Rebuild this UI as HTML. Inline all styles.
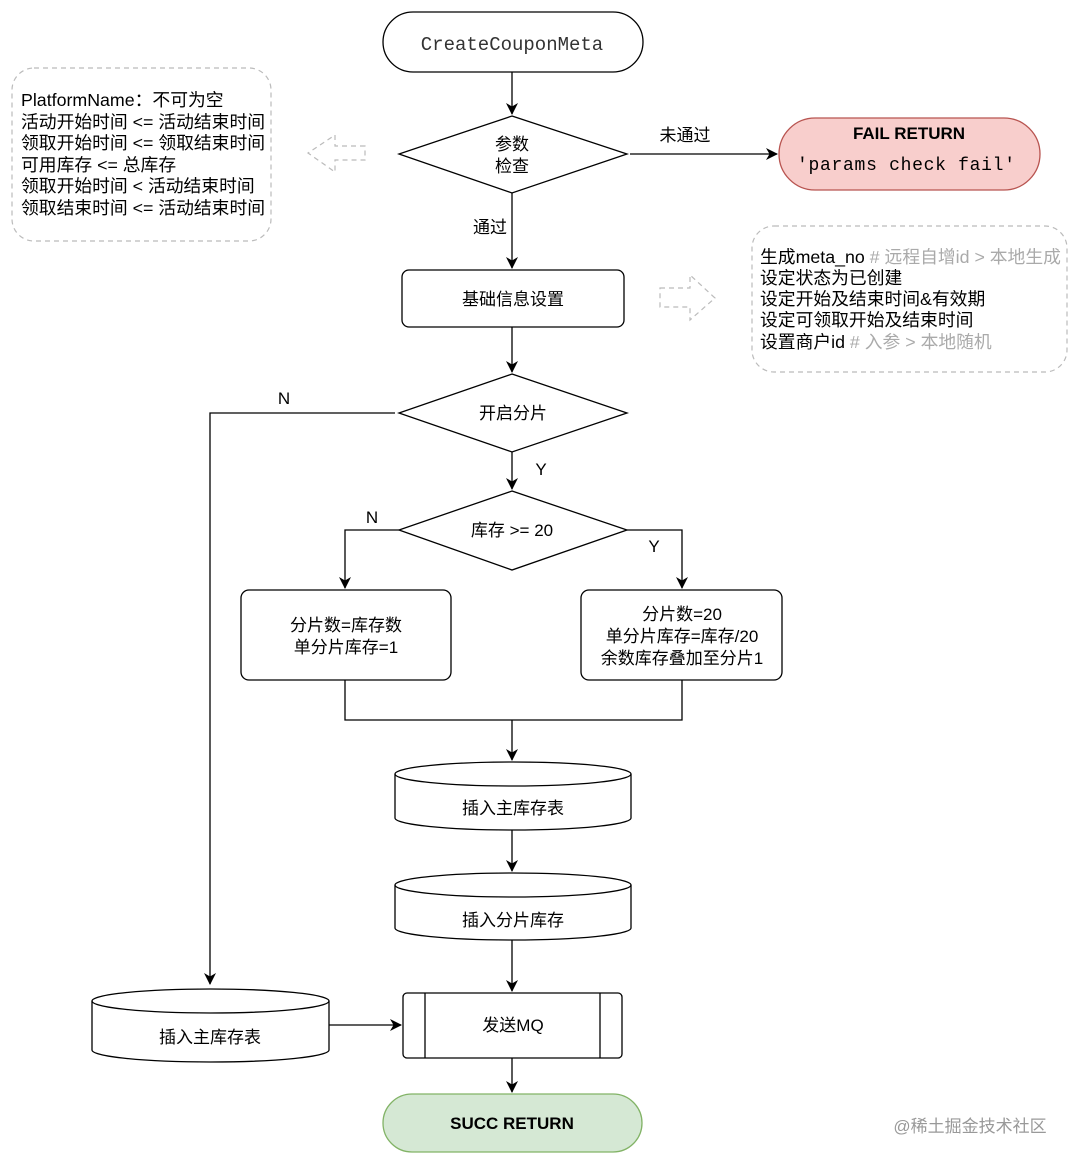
<!DOCTYPE html>
<html><head><meta charset="utf-8"><style>
html,body{margin:0;padding:0;background:#fff}
svg text{font-family:"Liberation Sans","Noto Sans CJK SC",sans-serif}
</style></head><body>
<svg width="1080" height="1166" viewBox="0 0 1080 1166" xmlns="http://www.w3.org/2000/svg">
<defs><marker id="a" markerWidth="12" markerHeight="12" refX="11" refY="6" orient="auto" markerUnits="userSpaceOnUse"><path d="M0,0 L12,6 L0,12 L3.5,6 Z" fill="#000"/></marker></defs>
<g fill="none" stroke="#000" stroke-width="1.3">
<rect x="383" y="12" width="260" height="60" rx="30" fill="#fff"/>
<line x1="512" y1="72" x2="512" y2="114" marker-end="url(#a)"/>
<polygon points="512,116 627,154 512,193 399,154" fill="#fff"/>
<line x1="630" y1="154" x2="777" y2="154" marker-end="url(#a)"/>
<rect x="779" y="118" width="261" height="72" rx="36" fill="#f8cecc" stroke="#b85450"/>
<line x1="512" y1="193" x2="512" y2="268" marker-end="url(#a)"/>
<rect x="402" y="270" width="222" height="57" rx="7" fill="#fff"/>
<line x1="512" y1="327" x2="512" y2="372" marker-end="url(#a)"/>
<polygon points="512,374 627,413 512,452 399,413" fill="#fff"/>
<polyline points="395,413 210,413 210,984" marker-end="url(#a)"/>
<line x1="512" y1="452" x2="512" y2="489" marker-end="url(#a)"/>
<polygon points="512,491 627,530 512,570 399,530" fill="#fff"/>
<polyline points="399,530 345,530 345,588" marker-end="url(#a)"/>
<polyline points="627,530 682,530 682,588" marker-end="url(#a)"/>
<rect x="241" y="590" width="210" height="90" rx="8" fill="#fff"/>
<rect x="581" y="590" width="201" height="90" rx="8" fill="#fff"/>
<polyline points="345,680 345,720 682,720 682,680"/>
<line x1="512" y1="720" x2="512" y2="760" marker-end="url(#a)"/>
<path d="M395,774 A118,12 0 0 1 631,774 L631,818 A118,12 0 0 1 395,818 Z" fill="#fff"/>
<path d="M395,774 A118,12 0 0 0 631,774"/>
<line x1="512" y1="830" x2="512" y2="871" marker-end="url(#a)"/>
<path d="M395,885 A118,12 0 0 1 631,885 L631,928 A118,12 0 0 1 395,928 Z" fill="#fff"/>
<path d="M395,885 A118,12 0 0 0 631,885"/>
<line x1="512" y1="940" x2="512" y2="991" marker-end="url(#a)"/>
<rect x="403" y="993" width="219" height="65" rx="4" fill="#fff"/>
<line x1="425" y1="993" x2="425" y2="1058"/><line x1="600" y1="993" x2="600" y2="1058"/>
<path d="M92,1001 A118.5,12 0 0 1 329,1001 L329,1050 A118.5,12 0 0 1 92,1050 Z" fill="#fff"/>
<path d="M92,1001 A118.5,12 0 0 0 329,1001"/>
<line x1="329" y1="1025" x2="401" y2="1025" marker-end="url(#a)"/>
<line x1="512" y1="1058" x2="512" y2="1092" marker-end="url(#a)"/>
<rect x="383" y="1094" width="259" height="58" rx="29" fill="#d5e8d4" stroke="#82b366"/>
</g>
<g fill="none" stroke="#bbb" stroke-width="1.2" stroke-dasharray="5,4">
<rect x="12" y="68" width="259" height="173" rx="22"/>
<rect x="752" y="226" width="315" height="146" rx="22"/>
<polygon points="365,146 335,146 335,135 308,153 335,172 335,160 365,160"/>
<polygon points="660,288 690,288 690,275 715,298 690,320 690,307 660,307"/>
</g>
<g font-size="17" fill="#000">
<text x="512" y="50" text-anchor="middle" style="font-family:'Liberation Mono',monospace" font-size="19" fill="#333">CreateCouponMeta</text>
<text x="512" y="150" text-anchor="middle">参数</text>
<text x="512" y="172" text-anchor="middle">检查</text>
<text x="685" y="141" text-anchor="middle">未通过</text>
<text x="909" y="139" text-anchor="middle" font-weight="bold">FAIL RETURN</text>
<text x="906" y="170" text-anchor="middle" style="font-family:'Liberation Mono',monospace" font-size="18" textLength="218" lengthAdjust="spacing">'params check fail'</text>
<text x="490" y="233" text-anchor="middle">通过</text>
<text x="513" y="305" text-anchor="middle">基础信息设置</text>
<text x="513" y="419" text-anchor="middle">开启分片</text>
<text x="284" y="404" text-anchor="middle">N</text>
<text x="541" y="475" text-anchor="middle">Y</text>
<text x="512" y="536" text-anchor="middle">库存 &gt;= 20</text>
<text x="372" y="523" text-anchor="middle">N</text>
<text x="654" y="552" text-anchor="middle">Y</text>
<text x="346" y="631" text-anchor="middle">分片数=库存数</text>
<text x="346" y="653" text-anchor="middle">单分片库存=1</text>
<text x="682" y="620" text-anchor="middle">分片数=20</text>
<text x="682" y="642" text-anchor="middle">单分片库存=库存/20</text>
<text x="682" y="664" text-anchor="middle">余数库存叠加至分片1</text>
<text x="513" y="814" text-anchor="middle">插入主库存表</text>
<text x="513" y="926" text-anchor="middle">插入分片库存</text>
<text x="513" y="1031" text-anchor="middle">发送MQ</text>
<text x="210" y="1043" text-anchor="middle">插入主库存表</text>
<text x="512" y="1129" text-anchor="middle" font-weight="bold">SUCC RETURN</text>
<g font-size="17.8">
<text x="21" y="106">PlatformName：不可为空</text>
<text x="21" y="128">活动开始时间 &lt;= 活动结束时间</text>
<text x="21" y="149">领取开始时间 &lt;= 领取结束时间</text>
<text x="21" y="171">可用库存 &lt;= 总库存</text>
<text x="21" y="192">领取开始时间 &lt; 活动结束时间</text>
<text x="21" y="214">领取结束时间 &lt;= 活动结束时间</text>
<text x="760" y="263">生成meta_no<tspan fill="#aaa"> # 远程自增id &gt; 本地生成</tspan></text>
<text x="760" y="284">设定状态为已创建</text>
<text x="760" y="305">设定开始及结束时间&amp;有效期</text>
<text x="760" y="326">设定可领取开始及结束时间</text>
<text x="760" y="348">设置商户id<tspan fill="#aaa"> # 入参 &gt; 本地随机</tspan></text>
</g>
<text x="970" y="1132" text-anchor="middle" fill="#999">@稀土掘金技术社区</text>
</g>
</svg>
</body></html>
